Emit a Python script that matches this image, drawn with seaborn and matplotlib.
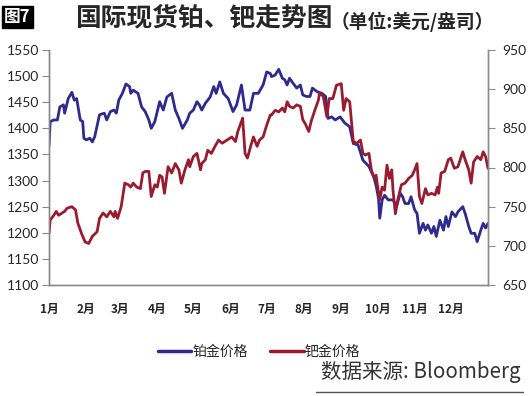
import numpy as np
import pandas as pd
import matplotlib
matplotlib.use("Agg")
import matplotlib.pyplot as plt
import seaborn as sns

# 横轴：一年中的第几天（1月1日 = 0）
pt_day = [0, 1, 4, 7, 9, 12, 13, 16, 19, 21, 23, 26, 28, 29, 31, 34, 36, 38, 42, 46,
          48, 51, 54, 56, 58, 61, 64, 67, 68, 70, 74, 77, 80, 83, 85, 88, 92, 95, 98, 102,
          105, 108, 111, 115, 117, 120, 123, 125, 127, 130, 134, 137, 139, 142, 145, 149, 153, 156, 160, 163,
          167, 170, 174, 178, 181, 184, 185, 188, 191, 194, 196, 198, 200, 203, 206, 209, 211, 214, 217, 219,
          223, 227, 230, 232, 235, 238, 242, 246, 250, 253, 257, 261, 266, 270, 272, 274, 275, 277, 279, 282,
          286, 289, 292, 294, 296, 299, 301, 304, 306, 308, 311, 313, 315, 318, 320, 322, 325, 328, 330, 332,
          335, 338, 340, 344, 346, 349, 351, 354, 356, 359, 361, 363, 365]
pt_price = [1366, 1413, 1416, 1416, 1441, 1445, 1429, 1457, 1469, 1454, 1457, 1416, 1413, 1381, 1378, 1381, 1374, 1384, 1426, 1429,
            1416, 1432, 1435, 1429, 1454, 1467, 1485, 1480, 1467, 1473, 1467, 1441, 1432, 1416, 1400, 1413, 1451, 1435, 1460, 1467,
            1435, 1419, 1400, 1416, 1429, 1435, 1451, 1445, 1435, 1448, 1460, 1480, 1467, 1489, 1467, 1457, 1432, 1445, 1483, 1435,
            1435, 1467, 1467, 1483, 1508, 1505, 1499, 1502, 1513, 1496, 1493, 1483, 1496, 1486, 1477, 1483, 1464, 1461, 1461, 1477,
            1470, 1467, 1461, 1419, 1422, 1416, 1422, 1410, 1403, 1371, 1368, 1339, 1327, 1307, 1290, 1265, 1228, 1263, 1272, 1263,
            1263, 1250, 1276, 1269, 1256, 1256, 1269, 1244, 1237, 1199, 1218, 1205, 1215, 1199, 1212, 1193, 1224, 1205, 1231, 1212,
            1240, 1231, 1240, 1250, 1237, 1212, 1199, 1199, 1183, 1205, 1218, 1209, 1218]

pd_day = [0, 1, 4, 6, 8, 11, 13, 15, 19, 22, 24, 27, 30, 33, 36, 40, 42, 45, 48, 51,
          54, 55, 57, 60, 63, 66, 68, 70, 73, 76, 78, 80, 83, 85, 88, 90, 92, 94, 96, 99,
          102, 105, 108, 110, 113, 116, 117, 120, 123, 126, 127, 130, 132, 135, 138, 141, 144, 148, 152, 155,
          157, 161, 163, 165, 168, 170, 173, 175, 178, 181, 184, 185, 188, 191, 194, 196, 198, 200, 203, 206,
          209, 211, 213, 216, 218, 221, 224, 225, 228, 231, 233, 236, 239, 243, 245, 247, 250, 253, 256, 259,
          261, 263, 266, 268, 270, 272, 273, 275, 277, 279, 281, 283, 285, 286, 288, 290, 293, 296, 299, 302,
          304, 306, 308, 310, 313, 315, 318, 321, 323, 324, 326, 329, 332, 334, 337, 340, 344, 346, 349, 351,
          353, 356, 359, 361, 363, 365]
pd_price = [716, 733, 739, 744, 739, 742, 744, 748, 750, 746, 729, 716, 705, 703, 712, 718, 735, 742, 737, 744,
            737, 744, 735, 750, 780, 778, 775, 780, 775, 773, 793, 795, 795, 763, 778, 775, 790, 788, 767, 801,
            793, 805, 797, 780, 797, 810, 801, 814, 818, 797, 805, 810, 822, 818, 827, 835, 831, 835, 839, 833,
            846, 863, 818, 812, 829, 839, 827, 835, 839, 854, 867, 867, 873, 871, 876, 871, 884, 878, 876, 880,
            878, 861, 856, 846, 859, 873, 886, 895, 891, 865, 888, 888, 905, 907, 873, 888, 884, 833, 831, 835,
            818, 816, 818, 797, 788, 790, 778, 759, 775, 771, 803, 786, 797, 771, 741, 759, 778, 780, 786, 790,
            797, 805, 763, 754, 773, 765, 767, 765, 775, 767, 793, 795, 810, 812, 799, 801, 820, 810, 797, 780,
            807, 814, 810, 820, 814, 799]

month_start = [0, 31, 59, 90, 120, 151, 181, 212, 243, 273, 304, 334, 365]
month_labels = ["1月", "2月", "3月", "4月", "5月", "6月", "7月", "8月", "9月", "10月", "11月", "12月", ""]

pt_df = pd.DataFrame({"day": pt_day, "price": pt_price})
pd_df = pd.DataFrame({"day": pd_day, "price": pd_price})

sns.set_style("white")
plt.rcParams['font.family'] = ['Noto Sans CJK SC', 'DejaVu Sans']

blue = "#2e2a8e"
red = "#9a1b2e"
axis_col = "#8a8a8a"

fig = plt.figure(figsize=(5.29, 3.96), dpi=100)
ax = fig.add_axes([49/529, 1-285/396, (488-49)/529, (285-50)/396])
ax2 = ax.twinx()

sns.lineplot(data=pt_df, x="day", y="price", ax=ax, color=blue, lw=2.0, legend=False)
sns.lineplot(data=pd_df, x="day", y="price", ax=ax2, color=red, lw=2.0, legend=False)

ax.set_xlim(0, 365)
ax.set_ylim(1100, 1550)
ax2.set_ylim(650, 950)
ax.set_yticks(np.arange(1100, 1551, 50))
ax2.set_yticks(np.arange(650, 951, 50))
ax.set_xticks(month_start)
ax.set_xticklabels(month_labels, fontsize=8.5, fontweight="bold", ha="center")
ax.set_xlabel("")
ax.set_ylabel("")
ax2.set_ylabel("")

for a in (ax, ax2):
    a.spines["top"].set_visible(False)
    for s in ("left", "right", "bottom"):
        a.spines[s].set_color(axis_col)
        a.spines[s].set_linewidth(1.0)
    a.grid(False)
ax.tick_params(axis="y", direction="out", length=5, color=axis_col, labelsize=10, pad=2)
ax.tick_params(axis="x", direction="out", length=4, color=axis_col, pad=9)
ax2.tick_params(axis="y", direction="out", length=5, color=axis_col, labelsize=10, pad=5)
for lab in ax.get_yticklabels() + ax2.get_yticklabels():
    lab.set_family(["Lato", "DejaVu Sans"])

# 标题
fig.text(0.008, 0.958, "图7", fontsize=12, fontweight="bold", color="white", va="center",
         bbox=dict(facecolor="black", edgecolor="black", pad=1.5))
fig.text(0.142, 0.955, "国际现货铂、钯走势图", fontsize=18.5, fontweight="black", va="center")
fig.text(0.625, 0.946, "（单位:美元/盎司）", fontsize=13.5, fontweight="bold", va="center")

# 图例
fig.legend(handles=[plt.Line2D([], [], color=blue, lw=2.5), plt.Line2D([], [], color=red, lw=2.5)],
           labels=["铂金价格", "钯金价格"], loc="center", bbox_to_anchor=(0.49, 0.112), ncol=2,
           frameon=False, fontsize=10, handlelength=2.4, handletextpad=0.1, columnspacing=1.6)

fig.text(0.984, 0.032, "数据来源: Bloomberg", fontsize=14.8, fontweight="light", ha="right", va="bottom", color="#333333")
fig.add_artist(plt.Line2D([0.598, 0.988], [0.010, 0.010], color="#555555", lw=1))

fig.savefig("out.png", dpi=100)
